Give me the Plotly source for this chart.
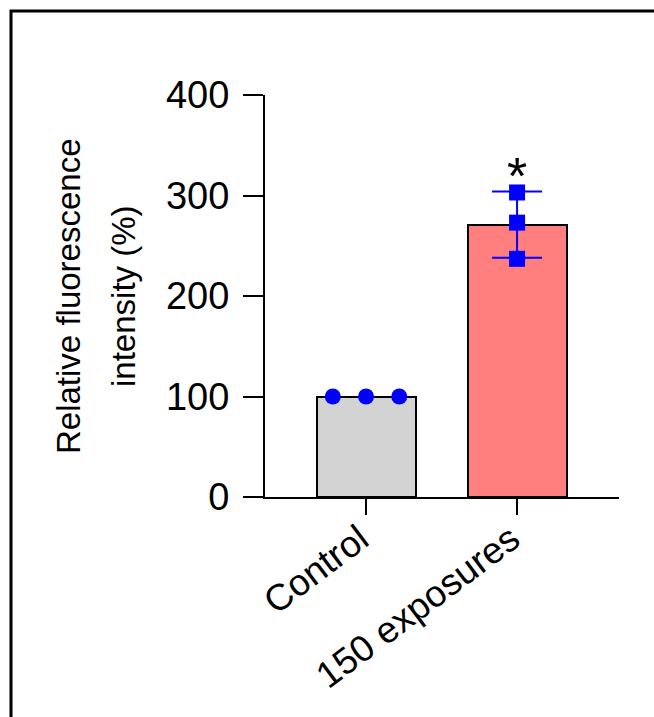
import numpy as np
import plotly.graph_objects as go

# ---- data ----
categories = ["Control", "150 exposures"]
control_values = [100, 100, 100]
exposure_values = [303, 273, 237]
y_ticks = [0, 100, 200, 300, 400]
y_title_lines = ["Relative fluorescence", "intensity (%)"]
significance = "*"

groups = [control_values, exposure_values]
means = [float(np.mean(g)) for g in groups]
sds = [float(np.std(g, ddof=1)) for g in groups]

W, H = 654, 717
L, R, T, B = 265, 35, 95, 220
pw, ph = W - L - R, H - T - B
FONT = "Liberation Sans, Arial, sans-serif"

def px_x(px):
    return (px - L) / pw

def px_y(py):
    return (H - B - py) / ph

fig = go.Figure()

# bars
fig.add_trace(go.Bar(
    x=[0, 1], y=means, width=0.656,
    marker=dict(color=["#D3D3D3", "#FF7F7F"], line=dict(color="black", width=2)),
    showlegend=False, hoverinfo="skip",
))

# error bar on exposure group (drawn at mean)
fig.add_trace(go.Scatter(
    x=[1], y=[means[1]], mode="markers",
    marker=dict(size=1, color="rgba(0,0,0,0)"),
    error_y=dict(type="data", array=[sds[1]], color="#0000FF", thickness=2, width=25),
    showlegend=False, hoverinfo="skip",
))

# individual points
ctrl_offsets = [-0.22, 0.0, 0.22]
fig.add_trace(go.Scatter(
    x=[0 + o for o in ctrl_offsets], y=control_values, mode="markers",
    marker=dict(symbol="circle", size=16, color="#0000FF"),
    showlegend=False, cliponaxis=False,
))
fig.add_trace(go.Scatter(
    x=[1] * len(exposure_values), y=exposure_values, mode="markers",
    marker=dict(symbol="square", size=16, color="#0000FF"),
    showlegend=False, cliponaxis=False,
))

# significance star
fig.add_annotation(x=1, y=means[1] + sds[1], xref="x", yref="y",
                   text=significance, showarrow=False, yanchor="bottom", yshift=-16,
                   font=dict(family=FONT, size=52, color="black"))

# y title (two lines)
fig.add_annotation(x=px_x(68), y=0.5, xref="paper", yref="paper",
                   text=y_title_lines[0], textangle=-90, showarrow=False,
                   xanchor="center", yanchor="middle",
                   font=dict(family=FONT, size=33, color="black"))
fig.add_annotation(x=px_x(123), y=0.5, xref="paper", yref="paper",
                   text=y_title_lines[1], textangle=-90, showarrow=False,
                   xanchor="center", yanchor="middle",
                   font=dict(family=FONT, size=33, color="black"))

# outer frame
fig.add_shape(type="rect", xref="paper", yref="paper",
              x0=px_x(11), x1=px_x(1000), y0=px_y(1000), y1=px_y(11),
              line=dict(color="black", width=3), fillcolor="rgba(0,0,0,0)")

fig.update_layout(
    width=W, height=H,
    margin=dict(l=L, r=R, t=T, b=B, pad=0, autoexpand=False),
    paper_bgcolor="white", plot_bgcolor="white",
    font=dict(family=FONT, size=38, color="black"),
    showlegend=False,
    bargap=0,
)
fig.update_xaxes(
    range=[-0.669, 1.675], tickvals=[0, 1], ticktext=categories,
    tickangle=-37, ticks="outside", ticklen=16, tickwidth=2, tickcolor="black",
    showline=True, linecolor="black", linewidth=2, showgrid=False, zeroline=False,
    automargin=False, ticklabelstandoff=-12, ticklabelshift=-6,
    tickfont=dict(family=FONT, size=37, color="black"),
)
fig.update_yaxes(
    range=[0, 400], tickvals=y_ticks, ticks="outside", ticklen=20, tickwidth=2,
    tickcolor="black", showline=True, linecolor="black", linewidth=2,
    showgrid=False, zeroline=False, ticklabelstandoff=6, automargin=False,
    tickfont=dict(family=FONT, size=38, color="black"),
)

fig.write_html("out.html")
